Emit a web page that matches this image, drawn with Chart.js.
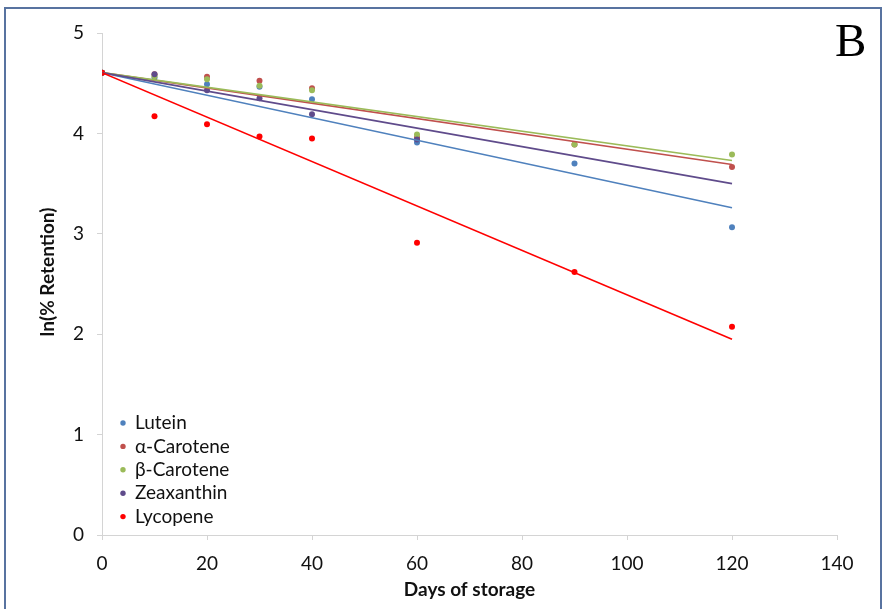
<!DOCTYPE html>
<html>
<head>
<meta charset="utf-8">
<script src="https://cdn.jsdelivr.net/npm/chart.js@4.4.1/dist/chart.umd.min.js"></script>
<style>
  html, body { margin: 0; padding: 0; background: #fff; overflow: hidden; }
  #wrap { position: relative; width: 883px; height: 609px; }
  #frame { position: absolute; left: 4px; top: 7px; width: 878px; height: 640px;
           border: 2px solid #5873A0; box-sizing: border-box; pointer-events: none; }
  canvas { position: absolute; left: 0; top: 0; }
</style>
</head>
<body>
<div id="wrap">
  <canvas id="chart" width="883" height="609"></canvas>
  <div id="frame"></div>
</div>
<script>
// DATA (ln of % retention)
var days = [0, 10, 20, 30, 40, 60, 90, 120];
var lutein     = [4.605, 4.555, 4.49, 4.465, 4.34, 3.91, 3.70, 3.065];
var aCarotene  = [4.605, 4.59, 4.565, 4.525, 4.45, 3.96, 3.89, 3.665];
var bCarotene  = [4.605, 4.57, 4.54, 4.475, 4.43, 3.99, 3.89, 3.79];
var zeaxanthin = [4.605, 4.59, 4.43, 4.35, 4.19, 3.94, null, null];
var lycopene   = [4.605, 4.17, 4.09, 3.97, 3.95, 2.91, 2.62, 2.075];

// linear trendlines: value at day 0 and day 120
var trendDays = [0, 120];
var luteinTrend     = [4.605, 3.26];
var aCaroteneTrend  = [4.605, 3.69];
var bCaroteneTrend  = [4.605, 3.73];
var zeaxanthinTrend = [4.605, 3.50];
var lycopeneTrend   = [4.605, 1.95];

var seriesNames  = ['Lutein', 'α-Carotene', 'β-Carotene', 'Zeaxanthin', 'Lycopene'];
var seriesColors = ['#4F81BD', '#C0504D', '#9BBB59', '#5F4B8B', '#FF0000'];
var xTicks = [0, 20, 40, 60, 80, 100, 120, 140];
var yTicks = [0, 1, 2, 3, 4, 5];
var panelLabel = 'B';
var yTitle = 'ln(% Retention)';

function pts(xs, ys) {
  var out = [];
  xs.forEach(function (x, i) { if (ys[i] !== null) out.push({ x: x, y: ys[i] }); });
  return out;
}

var pointSets = [lutein, aCarotene, bCarotene, zeaxanthin, lycopene];
var trendSets = [luteinTrend, aCaroteneTrend, bCaroteneTrend, zeaxanthinTrend, lycopeneTrend];

var datasets = [];
pointSets.forEach(function (s, i) {
  datasets.push({
    label: seriesNames[i],
    data: pts(days, s),
    showLine: false,
    pointRadius: 3,
    pointBorderWidth: 0,
    pointBackgroundColor: seriesColors[i],
    pointBorderColor: seriesColors[i],
    order: 20 - i
  });
});
trendSets.forEach(function (s, i) {
  datasets.push({
    label: seriesNames[i] + ' trend',
    data: pts(trendDays, s),
    showLine: true,
    pointRadius: 0,
    borderWidth: 1.6,
    borderColor: seriesColors[i],
    order: 10 - i
  });
});

// panel letter, y title + legend drawn by hand
var extras = {
  id: 'extras',
  afterDraw: function (chart) {
    var ctx = chart.ctx, area = chart.chartArea;
    ctx.save();
    ctx.fillStyle = '#000';
    ctx.font = '47px "Liberation Serif"';
    ctx.textAlign = 'left';
    ctx.textBaseline = 'alphabetic';
    ctx.fillText(panelLabel, 835, 56);

    // y axis title, a bit above the plot centre like the original
    ctx.save();
    ctx.translate(48, 272);
    ctx.rotate(-Math.PI / 2);
    ctx.fillStyle = '#111';
    ctx.font = 'bold 19px Lato';
    ctx.textAlign = 'center';
    ctx.textBaseline = 'middle';
    ctx.fillText(yTitle, 0, 0);
    ctx.restore();

    ctx.font = '19px Lato';
    ctx.textAlign = 'left';
    ctx.textBaseline = 'middle';
    seriesNames.forEach(function (name, i) {
      var y = area.top + 390 + i * 23.4;
      ctx.fillStyle = seriesColors[i];
      ctx.beginPath();
      ctx.arc(area.left + 21, y, 2.7, 0, Math.PI * 2);
      ctx.fill();
      ctx.fillStyle = '#111';
      ctx.fillText(name, area.left + 33, y);
    });
    ctx.restore();
  }
};

var axisGray = '#D4D4D4';

new Chart(document.getElementById('chart'), {
  type: 'scatter',
  data: { datasets: datasets },
  plugins: [extras],
  options: {
    responsive: false,
    devicePixelRatio: 1,
    animation: false,
    layout: { padding: { left: 0, right: 46, top: 33, bottom: 0 } },
    plugins: { legend: { display: false }, tooltip: { enabled: false } },
    scales: {
      x: {
        type: 'linear', min: 0, max: 140,
        afterBuildTicks: function (scale) { scale.ticks = xTicks.map(function (v) { return { value: v }; }); },
        afterFit: function (scale) { scale.height = 74; },
        grid: { drawOnChartArea: false, drawTicks: true, tickLength: 5, color: axisGray },
        border: { display: true, color: axisGray, width: 1 },
        ticks: { color: '#111', padding: 12, maxRotation: 0, font: { family: 'Lato', size: 19 } },
        title: { display: true, text: 'Days of storage', color: '#111',
                 font: { family: 'Lato', size: 19, weight: 'bold' }, padding: { top: 0, bottom: 8 } }
      },
      y: {
        type: 'linear', min: 0, max: 5,
        afterBuildTicks: function (scale) { scale.ticks = yTicks.map(function (v) { return { value: v }; }); },
        afterFit: function (scale) { scale.width = 102; },
        grid: { drawOnChartArea: false, drawTicks: true, tickLength: 5, color: axisGray },
        border: { display: true, color: axisGray, width: 1 },
        ticks: { color: '#111', padding: 13, font: { family: 'Lato', size: 19 } },
        title: { display: false }
      }
    }
  }
});
</script>
</body>
</html>
